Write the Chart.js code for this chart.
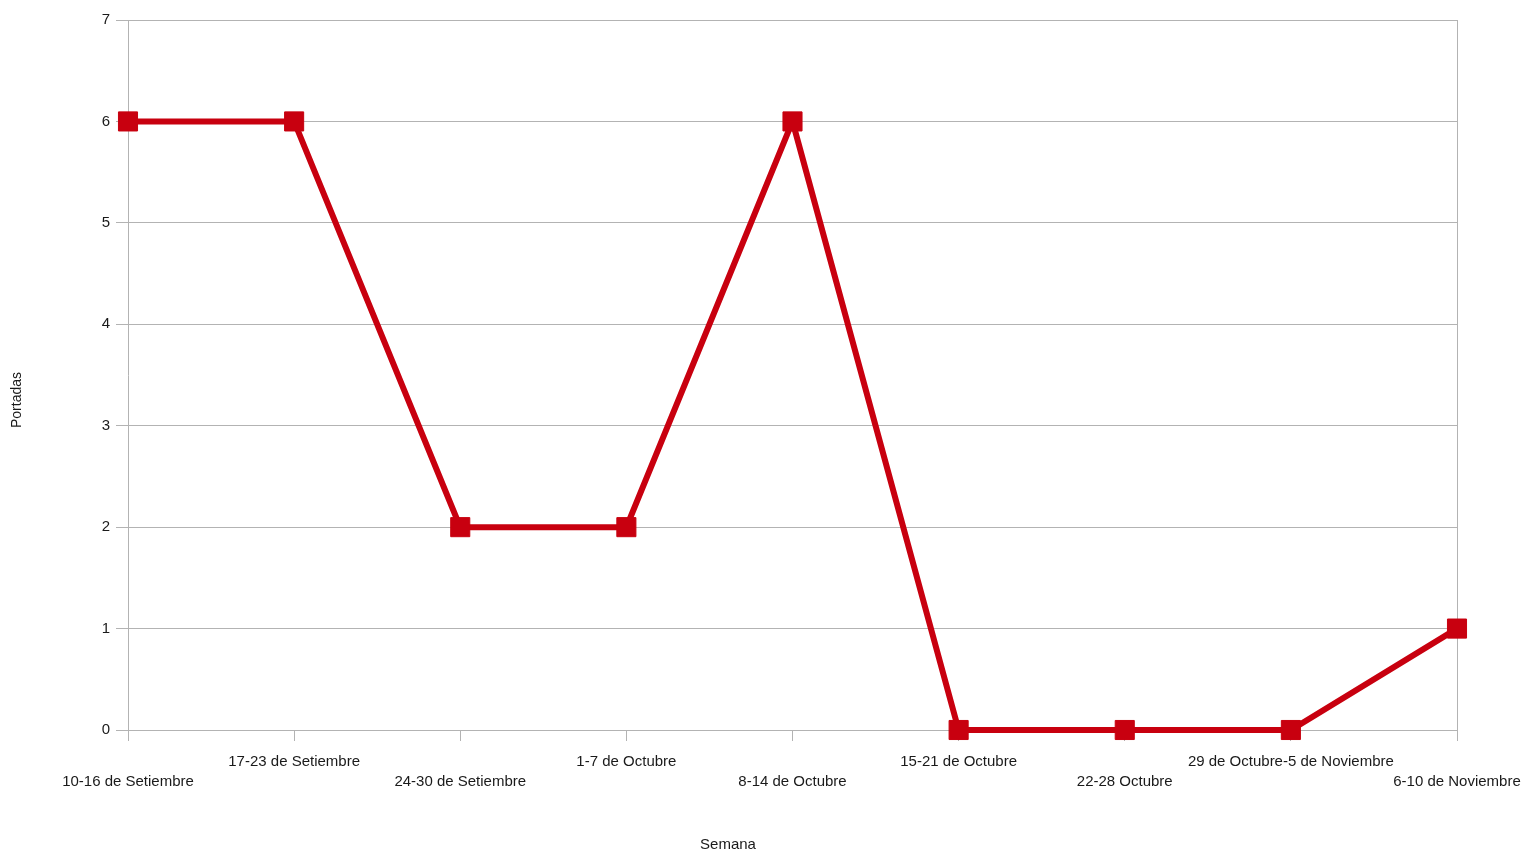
<!DOCTYPE html>
<html>
<head>
<meta charset="utf-8">
<script src="https://cdn.jsdelivr.net/npm/chart.js@4.4.0/dist/chart.umd.min.js"></script>
<style>
  html, body { margin: 0; padding: 0; background: #fff; }
  #wrap { width: 1524px; height: 852px; }
</style>
</head>
<body>
<div id="wrap"><canvas id="chart"></canvas></div>
<script>
// Chart data
const weeks = [
    '10-16 de Setiembre',
    '17-23 de Setiembre',
    '24-30 de Setiembre',
    '1-7 de Octubre',
    '8-14 de Octubre',
    '15-21 de Octubre',
    '22-28 Octubre',
    '29 de Octubre-5 de Noviembre',
    '6-10 de Noviembre'
];
const portadas = [6, 6, 2, 2, 6, 0, 0, 0, 1];
const yTicks = [0, 1, 2, 3, 4, 5, 6, 7];
const xTitle = 'Semana';
const yTitle = 'Portadas';

const lineColor = '#c8000f';
const gridColor = '#b3b3b3';
const textColor = '#1a1a1a';
const fontFamily = '"Liberation Sans", Arial, sans-serif';
const font = { family: fontFamily, size: 15 };

// Axis titles sit off-centre in the original, so draw them by hand
const axisTitles = {
    id: 'axisTitles',
    afterDraw(chart) {
        const c = chart.ctx;
        c.save();
        c.fillStyle = textColor;
        c.textAlign = 'center';
        c.textBaseline = 'middle';
        c.font = `15px ${fontFamily}`;
        c.fillText(xTitle, 728, 845);
        c.translate(17, 400);
        c.rotate(-Math.PI / 2);
        c.font = `14px ${fontFamily}`;
        c.fillText(yTitle, 0, 0);
        c.restore();
    }
};

const ctx = document.getElementById('chart').getContext('2d');

new Chart(ctx, {
    type: 'line',
    data: {
        labels: weeks,
        datasets: [{
            label: yTitle,
            data: portadas,
            borderColor: lineColor,
            backgroundColor: lineColor,
            borderWidth: 6,
            tension: 0,
            pointStyle: 'rect',
            pointRadius: 13.5,
            pointHoverRadius: 13.5,
            pointBorderWidth: 1,
            pointBorderColor: lineColor,
            pointBackgroundColor: lineColor,
            clip: false
        }]
    },
    options: {
        responsive: true,
        maintainAspectRatio: false,
        animation: false,
        layout: { padding: { top: 20, right: 0, bottom: 0, left: 0 } },
        plugins: {
            legend: { display: false },
            tooltip: { enabled: false }
        },
        scales: {
            x: {
                offset: false,
                border: { color: gridColor, width: 1 },
                grid: {
                    drawOnChartArea: true,
                    color: (c) => (c.index === weeks.length - 1 ? gridColor : 'transparent'),
                    tickColor: gridColor,
                    tickLength: 11
                },
                ticks: {
                    autoSkip: false,
                    maxRotation: 0,
                    minRotation: 0,
                    padding: 11,
                    color: textColor,
                    font: { ...font, lineHeight: 1.34 },
                    callback: function(value, index) {
                        const label = this.getLabelForValue(value);
                        return index % 2 ? [label, ''] : ['', label];
                    }
                },
                afterFit: (scale) => {
                    scale.height = 122;
                    scale.paddingRight = 67;
                }
            },
            y: {
                min: 0,
                max: 7,
                border: { color: gridColor, width: 1 },
                grid: {
                    color: gridColor,
                    tickColor: gridColor,
                    tickLength: 12
                },
                afterBuildTicks: (scale) => {
                    scale.ticks = yTicks.map(v => ({ value: v }));
                },
                ticks: {
                    padding: 6,
                    color: textColor,
                    font: font
                },
                afterFit: (scale) => { scale.width = 128; }
            }
        }
    },
    plugins: [axisTitles]
});
</script>
</body>
</html>
